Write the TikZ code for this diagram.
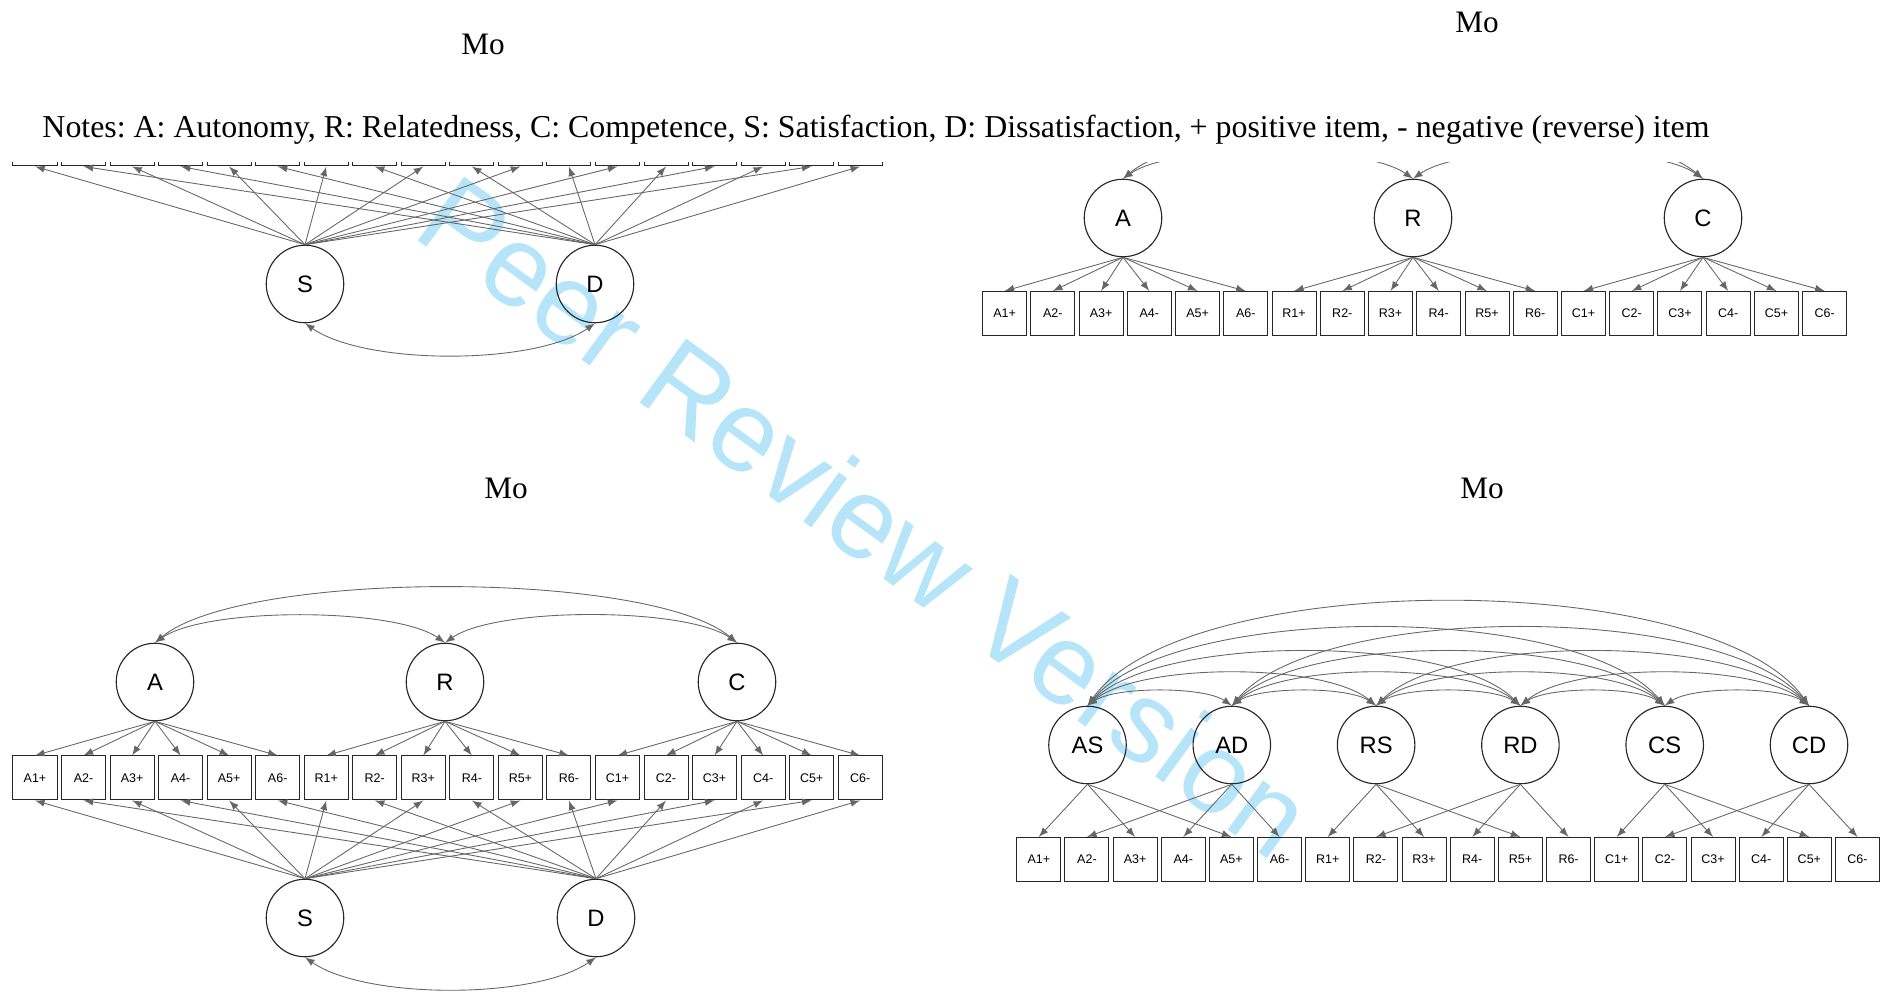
\documentclass[tikz,border=0pt]{standalone}
\usepackage{fontspec}
\setmainfont{Liberation Serif}
\newfontfamily\arialf{Liberation Sans}
\usetikzlibrary{arrows.meta,calc}
\definecolor{filigrana}{RGB}{182,229,250}
\newcommand{\elenco}{A1+,A2-,A3+,A4-,A5+,A6-,R1+,R2-,R3+,R4-,R5+,R6-,C1+,C2-,C3+,C4-,C5+,C6-}

\begin{document}
\begin{tikzpicture}[x=0.4pt, y=0.4pt,
  lat/.style={draw=black!85, line width=0.45pt, circle, minimum size=31pt, inner sep=0pt, font=\arialf\fontsize{9.5}{10}\selectfont},
  item/.style={draw=black!85, line width=0.4pt, rectangle, minimum width=17.6pt, minimum height=17.6pt, inner sep=0pt, font=\arialf\fontsize{5}{6}\selectfont},
  load/.style={-latex, line width=0.35pt, draw=black!60},
  cov/.style={latex-latex, line width=0.35pt, draw=black!60},
  titolo/.style={font=\fontsize{12.5}{14}\selectfont}]

\useasboundingbox (0,0) rectangle (1880,-997);

% filigrana
\node[rotate=-36, text=filigrana, font=\arialf\fontsize{46}{50}\selectfont] (wm) at (866,-516) {Peer Review Version};

% titoli e note
\node[titolo] (t1) at (483,-44) {Mo};
\node[titolo] (t2) at (1477,-22) {Mo};
\node[titolo] (t3) at (506,-488) {Mo};
\node[titolo] (t4) at (1482,-488) {Mo};
\node[anchor=base west, inner sep=0pt, font=\fontsize{12.75}{14}\selectfont\frenchspacing] (note) at (42,-138) {Notes: A: Autonomy, R: Relatedness, C: Competence, S: Satisfaction, D: Dissatisfaction, + positive item, - negative (reverse) item};

% modello 1: S e D
\begin{scope}
\clip (0,-163) rectangle (900,-420);
\node[lat] (p1S) at (305,-284) {S};
\node[lat] (p1D) at (595,-284) {D};
\foreach \lab [count=\i from 0] in \elenco
  \node[item] (p1b\i) at (35+48.54*\i,-144) {\lab};
\foreach \i in {0,2,...,16} \draw[load] (p1S.north) -- (p1b\i.south);
\foreach \i in {1,3,...,17} \draw[load] (p1D.north) -- (p1b\i.south);
\draw[cov] (p1S.south) to[out=-35,in=-145,looseness=0.65] (p1D.south);
\end{scope}

% modello 2: A, R, C
\begin{scope}
\clip (940,-163) rectangle (1880,-420);
\node[lat] (p2A) at (1123,-218) {A};
\node[lat] (p2R) at (1413,-218) {R};
\node[lat] (p2C) at (1703,-218) {C};
\foreach \lab [count=\i from 0] in \elenco
  \node[item] (p2b\i) at (1004.6+48.24*\i,-313.5) {\lab};
\foreach \i in {0,...,5} \draw[load] (p2A.south) -- (p2b\i.north);
\foreach \i in {6,...,11} \draw[load] (p2R.south) -- (p2b\i.north);
\foreach \i in {12,...,17} \draw[load] (p2C.south) -- (p2b\i.north);
\draw[cov] (p2A.north) to[out=35,in=145,looseness=0.55] (p2R.north);
\draw[cov] (p2R.north) to[out=35,in=145,looseness=0.55] (p2C.north);
\draw[cov] (p2A.north) to[out=40,in=140,looseness=0.5] (p2C.north);
\end{scope}

% modello 3: A, R, C con S e D
\node[lat] (p3A) at (155,-682) {A};
\node[lat] (p3R) at (445,-682) {R};
\node[lat] (p3C) at (737,-682) {C};
\node[lat] (p3S) at (305,-918) {S};
\node[lat] (p3D) at (596,-918) {D};
\foreach \lab [count=\i from 0] in \elenco
  \node[item] (p3b\i) at (35+48.54*\i,-778) {\lab};
\foreach \i in {0,...,5} \draw[load] (p3A.south) -- (p3b\i.north);
\foreach \i in {6,...,11} \draw[load] (p3R.south) -- (p3b\i.north);
\foreach \i in {12,...,17} \draw[load] (p3C.south) -- (p3b\i.north);
\foreach \i in {0,2,...,16} \draw[load] (p3S.north) -- (p3b\i.south);
\foreach \i in {1,3,...,17} \draw[load] (p3D.north) -- (p3b\i.south);
\draw[cov] (p3A.north) to[out=35,in=145,looseness=0.55] (p3R.north);
\draw[cov] (p3R.north) to[out=35,in=145,looseness=0.55] (p3C.north);
\draw[cov] (p3A.north) to[out=40,in=140,looseness=0.5] (p3C.north);
\draw[cov] (p3S.south) to[out=-35,in=-145,looseness=0.65] (p3D.south);

% modello 4: sei fattori
\foreach \f [count=\k from 0] in {AS,AD,RS,RD,CS,CD}
  \node[lat] (p4f\k) at (1087.5+144.3*\k,-745) {\f};
\foreach \lab [count=\i from 0] in \elenco
  \node[item] (p4b\i) at (1038.8+48.16*\i,-859.5) {\lab};
\foreach \k in {0,...,5}
  \foreach \j in {0,1,2} {
    \pgfmathtruncatemacro\t{6*int(\k/2)+mod(\k,2)+2*\j}
    \draw[load] (p4f\k.south) -- (p4b\t.north);
  }
\foreach \k in {0,...,4} {
  \pgfmathtruncatemacro\kk{\k+1}
  \foreach \l in {\kk,...,5} {
    \pgfmathtruncatemacro\aout{30+5*(\l-\k)}
    \pgfmathtruncatemacro\ain{180-\aout}
    \draw[cov] (p4f\k.north) to[out=\aout,in=\ain,looseness=0.6] (p4f\l.north);
  }
}

\end{tikzpicture}
\end{document}
